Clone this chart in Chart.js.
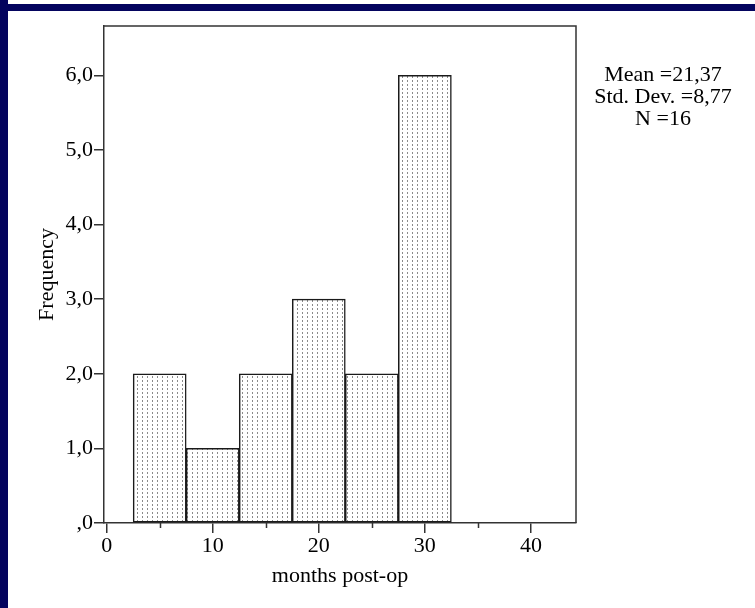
<!DOCTYPE html>
<html>
<head>
<meta charset="utf-8">
<script src="https://cdn.jsdelivr.net/npm/chart.js@4/dist/chart.umd.min.js"></script>
<style>
  html, body { margin: 0; padding: 0; background: #fff; }
  #wrap { position: relative; width: 755px; height: 608px; background: #fff; overflow: hidden; }
  #c { position: absolute; left: 0; top: 0; }
  .navy { position: absolute; background: #04045e; }
</style>
</head>
<body>
<div id="wrap">
  <canvas id="c" width="755" height="608"></canvas>
  <div class="navy" style="left:0;top:4px;width:755px;height:7px;"></div>
  <div class="navy" style="left:0;top:0;width:8px;height:608px;"></div>
</div>
<script>
// ---- data ----
const binCenters = [5, 10, 15, 20, 25, 30];
const frequencies = [2, 1, 2, 3, 2, 6];
const xTicks = [0, 10, 20, 30, 40];
const xMinorTicks = [5, 15, 25, 35];
const yTicks = [0, 1, 2, 3, 4, 5, 6];
const statsLines = ['Mean =21,37', 'Std. Dev. =8,77', 'N =16'];
const xTitle = 'months post-op';
const yTitle = 'Frequency';

// ---- styles ----
const FONT = '"Liberation Serif", "Times New Roman", serif';
const AXIS = '#333';

function makePattern() {
  const p = document.createElement('canvas');
  p.width = 5; p.height = 4;
  const g = p.getContext('2d');
  g.fillStyle = '#fff';
  g.fillRect(0, 0, 5, 4);
  g.fillStyle = '#8a8a8a';
  g.fillRect(2, 0, 1, 2);
  return g.createPattern(p, 'repeat');
}

const framePlugin = {
  id: 'frame',
  afterDraw(chart) {
    const { ctx, chartArea: a, scales } = chart;
    ctx.save();
    ctx.strokeStyle = AXIS;
    ctx.lineWidth = 1.5;
    ctx.beginPath();
    ctx.moveTo(a.left, a.top);
    ctx.lineTo(a.right, a.top);
    ctx.lineTo(a.right, a.bottom);
    ctx.stroke();
    // minor x ticks
    const xs = scales.x;
    ctx.beginPath();
    xMinorTicks.forEach(v => {
      const px = Math.round(xs.getPixelForValue(v)) + 0.5;
      ctx.moveTo(px, a.bottom);
      ctx.lineTo(px, a.bottom + 5);
    });
    ctx.stroke();
    // stats text
    ctx.fillStyle = '#000';
    ctx.font = '22px ' + FONT;
    ctx.textAlign = 'center';
    ctx.textBaseline = 'alphabetic';
    statsLines.forEach((s, i) => ctx.fillText(s, 663, 81 + i * 22));
    ctx.restore();
  }
};

const ctx = document.getElementById('c').getContext('2d');
new Chart(ctx, {
  type: 'bar',
  data: {
    datasets: [{
      data: binCenters.map((x, i) => ({ x: x, y: frequencies[i] })),
      backgroundColor: makePattern(),
      borderColor: '#1a1a1a',
      borderWidth: 1.5,
      borderSkipped: false,
      barPercentage: 1,
      categoryPercentage: 1
    }]
  },
  options: {
    responsive: false,
    animation: false,
    layout: { padding: { left: 0, right: 179, top: 26, bottom: 0 } },
    plugins: { legend: { display: false }, tooltip: { enabled: false } },
    scales: {
      x: {
        type: 'linear',
        offset: false,
        min: -0.25,
        max: 44.25,
        afterBuildTicks: s => { s.ticks = xTicks.map(v => ({ value: v })); },
        afterFit: s => { s.height = 85; },
        grid: { display: true, offset: false, drawOnChartArea: false, color: AXIS, lineWidth: 1.5, tickLength: 10 },
        border: { display: true, color: AXIS, width: 1.5 },
        ticks: { color: '#000', font: { family: FONT, size: 22 }, padding: 0, maxRotation: 0 },
        title: { display: true, text: xTitle, color: '#000', font: { family: FONT, size: 22 }, padding: { top: 0, bottom: 19 } }
      },
      y: {
        min: 0,
        max: 6.66,
        afterBuildTicks: s => { s.ticks = yTicks.map(v => ({ value: v })); },
        afterFit: s => { s.width = 104; },
        grid: { display: true, drawOnChartArea: false, color: AXIS, lineWidth: 1.5, tickLength: 10 },
        border: { display: true, color: AXIS, width: 1.5 },
        ticks: {
          color: '#000', font: { family: FONT, size: 22 }, padding: 1,
          callback: v => v === 0 ? ',0' : v.toFixed(1).replace('.', ',')
        },
        title: { display: true, text: yTitle, color: '#000', font: { family: FONT, size: 22 }, padding: { top: 34, bottom: 0 } }
      }
    }
  },
  plugins: [framePlugin]
});
</script>
</body>
</html>
